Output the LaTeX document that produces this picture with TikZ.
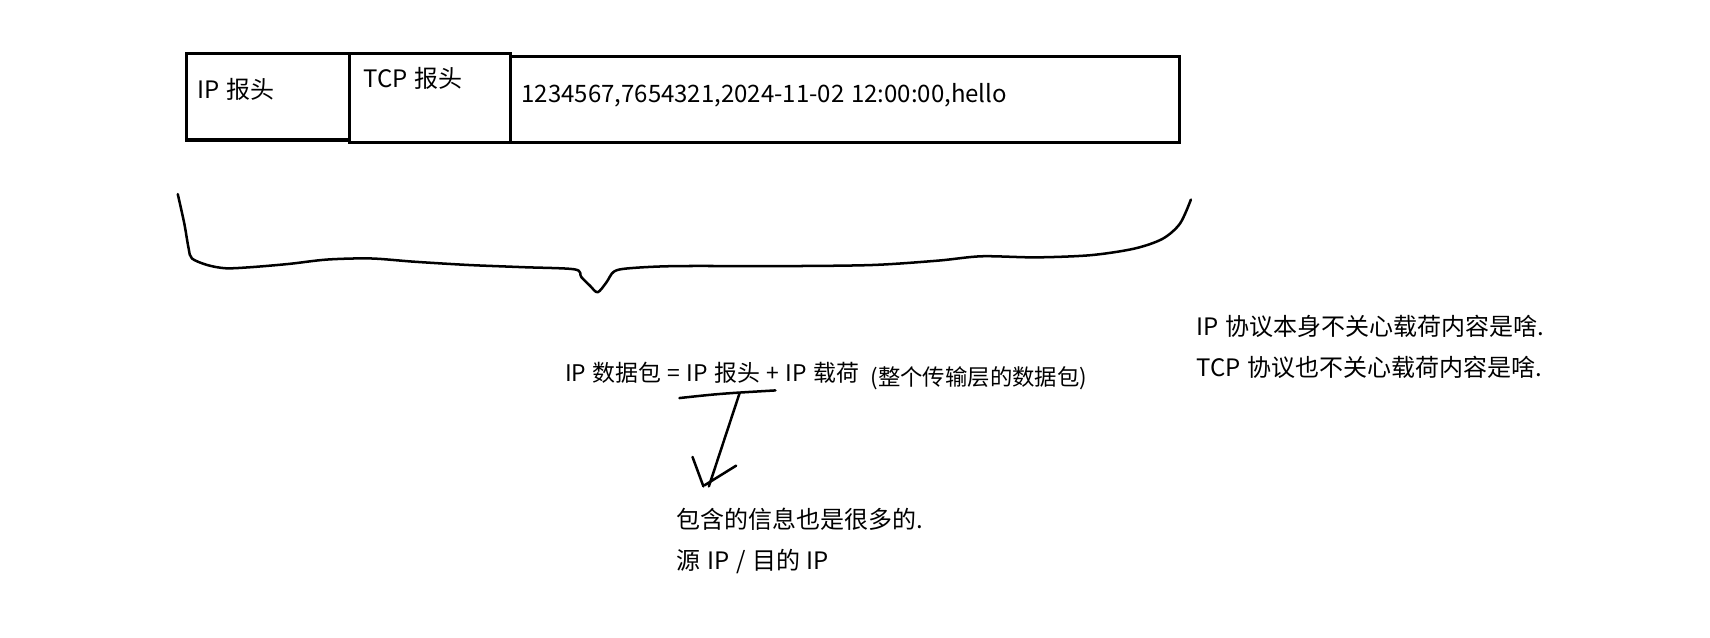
\documentclass[tikz,border=0pt]{standalone}
\usepackage{fontspec}
\setmainfont[WordSpace=1.25]{Noto Sans CJK SC}
\usetikzlibrary{positioning}
\tikzset{
    field/.style={draw, line width=2.8pt, minimum height=79pt, inner sep=0pt},
    note/.style={anchor=west, inner sep=0pt, font=\fontsize{22}{26}\selectfont},
    pen/.style={line width=2.3pt, line cap=round, line join=round}
}
\begin{document}
\begin{tikzpicture}[x=1pt, y=-1pt]
        \useasboundingbox (0,0) rectangle (1568,585);

        % The three fields of the packet
        \node[field, minimum width=149pt, anchor=north west] (iphead) at (170,48) {};
        \node[field, minimum width=148pt, anchor=north west, minimum height=81pt] (tcphead) at (319,48) {};
        \node[field, minimum width=613pt, anchor=north west] (payload) at (467,50) {};

        % Texts in the fields
        \node[note] (iptext) at (181,82) {IP 报头};
        \node[note] (tcptext) at (333,72) {TCP 报头};
        \node[note] (datatext) at (478,87) {1234567,7654321,2024-11-02 12:00:00,hello};

        % Hand drawn brace under the packet
        \draw[pen] plot[smooth, tension=0.5] coordinates {
            (163,178) (169,205) (173,228) (176,237) (190,243) (207,246)
            (230,245) (265,242) (300,238) (340,237) (380,240) (430,243)
            (480,245) (527,247) (533,254) (541,262) (548,268)
            (556,259) (563,249) (577,246) (620,244) (720,244) (800,243)
            (860,239) (900,235) (950,236) (1000,234) (1040,228)
            (1066,219) (1082,205) (1092,183)};

        % Formula under the brace
        \node[note, font=\fontsize{21}{25}\selectfont] (formula) at (518,342) {IP 数据包 = IP 报头 + IP 载荷};
        \node[note, font=\fontsize{20.5}{25}\selectfont, right=10pt of formula.east, yshift=-5pt] (whole) {(整个传输层的数据包)};

        % Underline and arrow down to the note
        \coordinate (ulstart) at (623,365);
        \coordinate (ulend) at (711,358);
        \coordinate (stem) at (678,361);
        \coordinate (tip) at (650,446);
        \draw[pen] (ulstart) .. controls (660,361) .. (ulend);
        \draw[pen] (stem) -- (tip);
        \draw[pen] (635,419) -- (645,446);
        \draw[pen] (675,427) -- (646,445);

        % Notes
        \node[note] (info) at (620,476) {包含的信息也是很多的.};
        \node[note] (srcdst) at (620,515) {源 IP / 目的 IP};
        \node[note] (ipnote) at (1097,299) {IP 协议本身不关心载荷内容是啥.};
        \node[note] (tcpnote) at (1097,337) {TCP 协议也不关心载荷内容是啥.};
    \end{tikzpicture}
\end{document}
